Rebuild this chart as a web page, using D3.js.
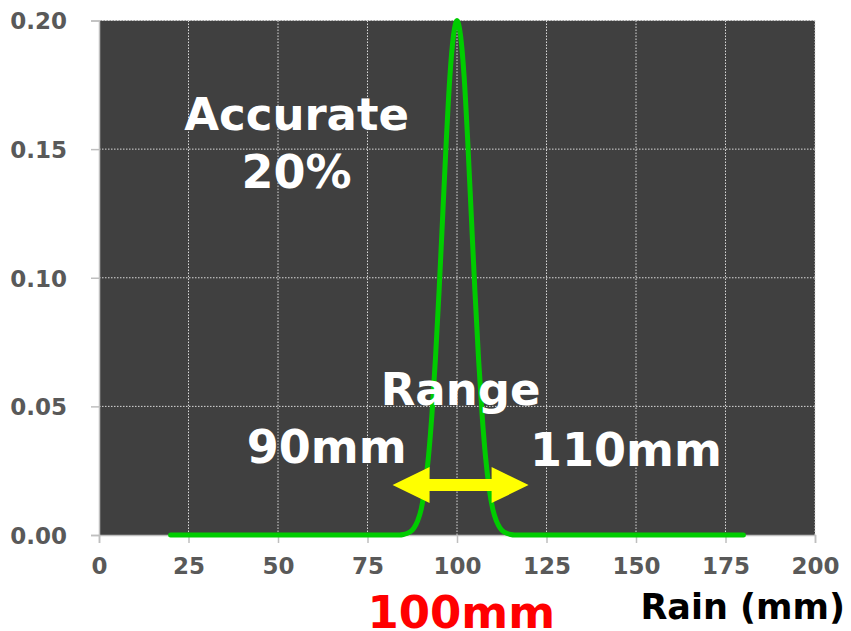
<!DOCTYPE html>
<html>
<head>
<meta charset="utf-8">
<script src="https://cdn.jsdelivr.net/npm/d3@7"></script>
<style>
  body { margin: 0; background: #ffffff; }
  text { font-family: "DejaVu Sans", Verdana, sans-serif; font-weight: bold; }
</style>
</head>
<body>
<svg width="851" height="631"></svg>
<script>
// rain amount (mm) and probability
var rainMm = [20, 84, 85, 86, 87, 88, 89, 90, 91, 92, 93, 94, 95, 96, 97, 98, 99, 100,
  101, 102, 103, 104, 105, 106, 107, 108, 109, 110, 111, 112, 113, 114, 115, 116, 180];
var prob = [0, 0, 0.0002, 0.0006, 0.0013, 0.0028, 0.0055, 0.010, 0.018, 0.030, 0.047, 0.069,
  0.095, 0.124, 0.153, 0.178, 0.194, 0.200, 0.194, 0.178, 0.153, 0.124, 0.095, 0.069,
  0.047, 0.030, 0.018, 0.010, 0.0055, 0.0028, 0.0013, 0.0006, 0.0002, 0, 0];

var xTicks = [0, 25, 50, 75, 100, 125, 150, 175, 200];
var yTicks = [0, 0.05, 0.10, 0.15, 0.20];

// range arrow (mm) and its height on the chart
var arrowFrom = 82, arrowTo = 120, arrowAt = 0.0194;

var svg = d3.select("svg");
var margin = {left: 99, right: 36, top: 20.5, bottom: 96};
var width = +svg.attr("width"), height = +svg.attr("height");
var innerWidth = width - margin.left - margin.right;
var innerHeight = height - margin.top - margin.bottom;

var g = svg.append("g").attr("transform", "translate(" + margin.left + "," + margin.top + ")");

var x = d3.scaleLinear().domain([0, 200]).range([0, innerWidth]);
var y = d3.scaleLinear().domain([0, 0.2]).range([innerHeight, 0]);

g.append("rect")
  .attr("width", innerWidth)
  .attr("height", innerHeight)
  .attr("fill", "#404040");

// dotted grid
g.selectAll(".vgrid").data(xTicks.slice(1)).enter().append("line")
  .attr("x1", d => x(d)).attr("x2", d => x(d))
  .attr("y1", 0).attr("y2", innerHeight)
  .attr("stroke", "#d9d9d9").attr("stroke-width", 1).attr("stroke-dasharray", "1.5,1.5");
g.selectAll(".hgrid").data(yTicks.slice(1)).enter().append("line")
  .attr("x1", 0).attr("x2", innerWidth)
  .attr("y1", d => y(d)).attr("y2", d => y(d))
  .attr("stroke", "#d9d9d9").attr("stroke-width", 1).attr("stroke-dasharray", "1.5,1.5");

var xAxis = d3.axisBottom(x).tickValues(xTicks).tickSize(8).tickPadding(15).tickFormat(d3.format("d"));
var yAxis = d3.axisLeft(y).tickValues(yTicks).tickSize(8).tickPadding(24).tickFormat(d3.format(".2f"));

var xAxisG = g.append("g").attr("transform", "translate(0," + innerHeight + ")").call(xAxis);
var yAxisG = g.append("g").call(yAxis);
[xAxisG, yAxisG].forEach(function (a) {
  a.select(".domain").attr("stroke", "#bfbfbf").attr("stroke-width", 1.5);
  a.selectAll(".tick line").attr("stroke", "#bfbfbf").attr("stroke-width", 1.5);
  a.selectAll(".tick text")
    .attr("fill", "#595959")
    .style("font-size", "23px")
    .style("font-family", "'DejaVu Sans', Verdana, sans-serif")
    .style("font-weight", "bold");
});
yAxisG.selectAll(".tick text").attr("dy", "0.36em");

// curve
var line = d3.line()
  .x((d, i) => x(rainMm[i]))
  .y(d => y(d))
  .curve(d3.curveMonotoneX);

g.append("path")
  .datum(prob)
  .attr("d", line)
  .attr("fill", "none")
  .attr("stroke", "#00cc00")
  .attr("stroke-width", 5)
  .attr("stroke-linecap", "round")
  .attr("stroke-linejoin", "round");

// double arrow
var ax0 = x(arrowFrom), ax1 = x(arrowTo), ay = y(arrowAt);
var head = 37, hh = 18, sh = 6;
g.append("path")
  .attr("d", [
    "M", ax0, ay,
    "L", ax0 + head, ay - hh,
    "L", ax0 + head, ay - sh,
    "L", ax1 - head, ay - sh,
    "L", ax1 - head, ay - hh,
    "L", ax1, ay,
    "L", ax1 - head, ay + hh,
    "L", ax1 - head, ay + sh,
    "L", ax0 + head, ay + sh,
    "L", ax0 + head, ay + hh, "Z"
  ].join(" "))
  .attr("fill", "#ffff00");

// labels
function label(txt, mm, p, size, color) {
  g.append("text")
    .attr("x", x(mm))
    .attr("y", y(p))
    .attr("text-anchor", "middle")
    .attr("fill", color)
    .style("font-size", size + "px")
    .text(txt);
}
label("Accurate", 55.2, 0.1574, 45, "#ffffff");
label("20%", 55.2, 0.1349, 46, "#ffffff");
label("Range", 101, 0.0505, 45, "#ffffff");
label("90mm", 63.6, 0.028, 46, "#ffffff");
label("110mm", 147.2, 0.0268, 46, "#ffffff");

svg.append("text")
  .attr("x", margin.left + x(101.2))
  .attr("y", 628)
  .attr("text-anchor", "middle")
  .attr("fill", "#ff0000")
  .style("font-size", "45px")
  .text("100mm");

svg.append("text")
  .attr("x", 845)
  .attr("y", 619)
  .attr("text-anchor", "end")
  .attr("fill", "#000000")
  .style("font-size", "35px")
  .text("Rain (mm)");
</script>
</body>
</html>
